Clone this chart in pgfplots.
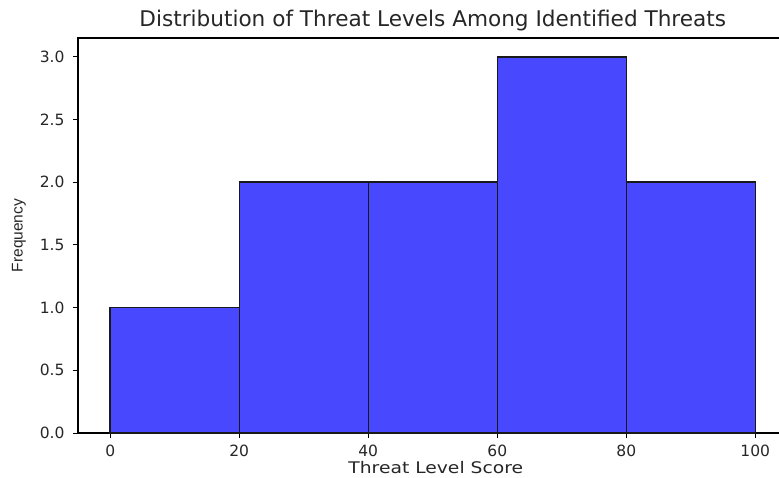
\documentclass[border=0pt]{standalone}
\usepackage{pgfplots}
\pgfplotsset{compat=1.18}
\usepackage{fontspec}
\setmainfont{DejaVu Sans}
\newfontfamily\xlabfont[FakeStretch=1.17]{DejaVu Sans}
\newfontfamily\arialfont{Liberation Sans}
\definecolor{barblue}{RGB}{72,72,255}
\begin{document}
\begin{tikzpicture}
\begin{axis}[
  scale only axis, width=709.5pt, height=395pt,
  at={(0pt,0pt)}, anchor=south west,
  xmin=-5, xmax=105, ymin=0, ymax=3.15,
  xtick={0,20,40,60,80,100},
  ytick={0,0.5,1,1.5,2,2.5,3},
  yticklabel style={xshift=-5pt, /pgf/number format/fixed, /pgf/number format/fixed zerofill, /pgf/number format/precision=1},
  /pgf/number format/assume math mode=true,
  tick pos=left, tick align=outside,
  major tick length=5pt,
  every tick/.style={black, line width=1pt},
  axis line style={line width=1.2pt},
  ticklabel style={font=\fontsize{15.5}{16}\selectfont, text=black!85},
  xticklabel style={yshift=-3pt},
  title={Distribution of Threat Levels Among Identified Threats},
  title style={font=\fontsize{21.6}{22}\selectfont, text=black!85, at={(axis description cs:0.5,1)}, anchor=base, yshift=5pt},
  xlabel={Threat Level Score},
  xlabel style={font=\xlabfont\fontsize{16}{17}\selectfont, text=black!85, at={(axis description cs:0.5,0)}, anchor=base, yshift=-40pt, xshift=3pt},
  ylabel={Frequency},
  ylabel style={font=\arialfont\fontsize{15.5}{16}\selectfont, text=black!85, at={([xshift=-59pt]axis description cs:0,0.5)}, anchor=center},
]
\addplot[ybar interval, fill=barblue, draw=black!90, line width=1.5pt] coordinates {
  (0,1) (20,2) (40,2) (60,3) (80,2) (100,2)
};
\end{axis}
\pgfresetboundingbox
\useasboundingbox (-78pt,-44pt) rectangle (701pt,433pt);
\end{tikzpicture}
\end{document}
